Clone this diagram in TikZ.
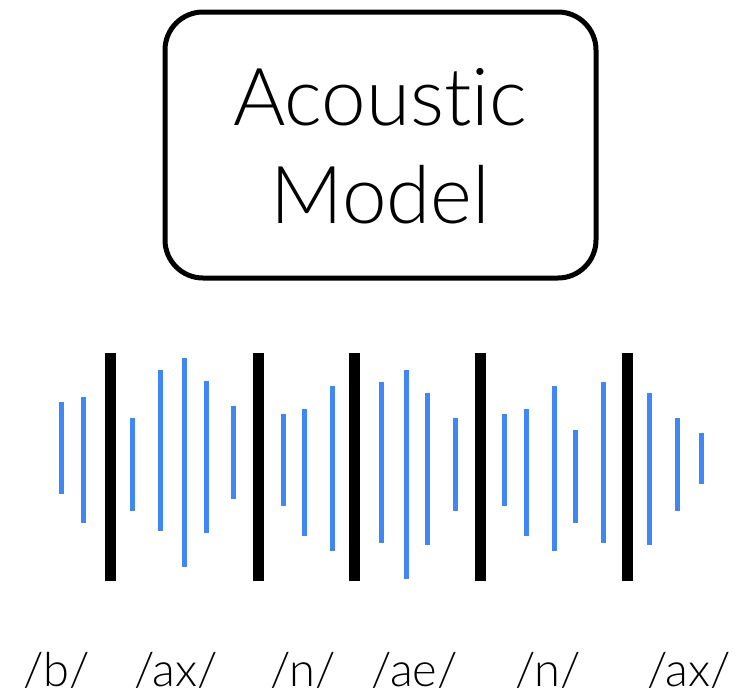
\documentclass[tikz,border=0pt]{standalone}
\usepackage{fontspec}
\setmainfont{Lato}[UprightFont=* Light, Ligatures={NoCommon}]
\definecolor{wave}{HTML}{4087F5}
\tikzset{
  modelbox/.style={draw=black, line width=5pt, rounded corners=38pt, minimum width=431pt, minimum height=266pt, inner sep=0pt},
  bigtext/.style={anchor=base, inner sep=0pt, font=\fontsize{80}{98}\selectfont},
  phone/.style={anchor=base, inner sep=0pt, font=\fontsize{47}{50}\selectfont},
  blueline/.style={draw=wave, line width=5pt},
  seg/.style={draw=black, line width=11pt}
}
\begin{document}
\begin{tikzpicture}[x=1pt, y=-1pt]
\useasboundingbox (0,0) rectangle (741,697);
\node[modelbox] (box) at (380.5,145) {};
\node[bigtext] (t1) at (380,125) {Acoustic};
\node[bigtext] (t2) at (380.5,223) {Model};
% blue waveform lines: x, top, bottom
\foreach \x/\a/\b in {61.3/401.7/494, 83/397/523.3, 132.3/418.3/510.7, 160/370/530.7, 184.3/358/566.7, 206/380.7/532.7, 233.3/406.3/498.7,
  283/413.7/506, 304.3/409/535.7, 332.3/385.7/551, 381.7/382/542.7, 406/370/579, 427.7/392.7/544.7, 455.3/418.3/510.7,
  504.3/413.7/506, 526.3/409/535.7, 554/385.7/551, 575.7/430.3/522.7, 603.3/382/542.7, 649.3/392.7/544.7, 677/418.3/510.7, 701.7/433.3/484.3}
  \draw[blueline] (\x,\a) -- (\x,\b);
% black segment boundaries
\foreach \x in {110, 258.3, 354.3, 480.5, 627.7}
  \draw[seg] (\x,352.7) -- (\x,580.7);
\node[phone] (p1) at (56.5,686) {/b/};
\node[phone] (p2) at (176,686) {/ax/};
\node[phone] (p3) at (303,686) {/n/};
\node[phone] (p4) at (414.5,686) {/ae/};
\node[phone] (p5) at (548,686) {/n/};
\node[phone] (p6) at (689,686) {/ax/};
\end{tikzpicture}
\end{document}
